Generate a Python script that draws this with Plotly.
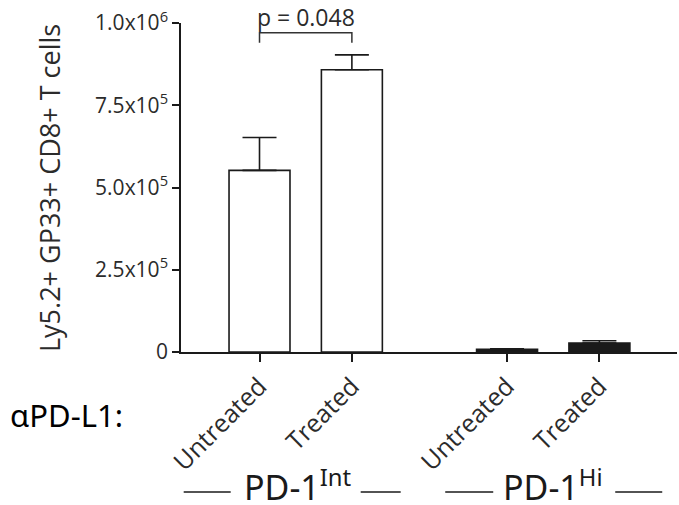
import plotly.graph_objects as go

# ---- data ----
treatments = ["Untreated", "Treated", "Untreated", "Treated"]
groups = ["PD-1<sup>Int</sup>", "PD-1<sup>Hi</sup>"]
values = [5.52e5, 8.58e5, 8.0e3, 2.7e4]
errors = [1.0e5, 0.45e5, 2.0e3, 7.0e3]
fills = ["white", "white", "#1a1a1a", "#1a1a1a"]
y_tickvals = [0, 2.5e5, 5.0e5, 7.5e5, 1.0e6]
y_ticktext = ["0", "2.5x10<sup>5</sup>", "5.0x10<sup>5</sup>", "7.5x10<sup>5</sup>", "1.0x10<sup>6</sup>"]
p_text = "p = 0.048"
y_title = "Ly5.2+ GP33+ CD8+ T cells"
row_label = "αPD-L1:"

# ---- layout geometry ----
W, H = 679, 505
ML, MR, MT, MB = 181, 2, 23, 153
group_gap = 1.68
xpos = [0, 1, group_gap + 1, group_gap + 2]
xr = [-0.85, xpos[-1] + 0.84]
pw = W - ML - MR
ph = H - MT - MB

def px_x(xd):
    return (xd - xr[0]) / (xr[1] - xr[0])

def py(pix):
    return (H - MB - pix) / ph

font_main = "Open Sans, DejaVu Sans, sans-serif"
font_lab = "Noto Sans, Open Sans, sans-serif"
txt_col = "#2b2b2b"

fig = go.Figure()
fig.add_trace(go.Bar(
    x=xpos, y=values, width=0.66,
    marker=dict(color=fills, line=dict(color="#1a1a1a", width=1.6)),
    error_y=dict(type="data", array=errors, arrayminus=[0] * len(errors), symmetric=False,
                 color="#1a1a1a", thickness=1.6, width=17),
    showlegend=False,
))

fig.update_layout(
    width=W, height=H,
    margin=dict(l=ML, r=MR, t=MT, b=MB, pad=0),
    paper_bgcolor="white", plot_bgcolor="white",
    font=dict(family=font_main, color=txt_col),
    xaxis=dict(range=xr, tickvals=xpos, ticktext=treatments, tickangle=-45,
               showline=True, linecolor="#1a1a1a", linewidth=1.5, automargin=False,
               ticks="outside", ticklen=8, tickwidth=1.5, tickcolor="#1a1a1a",
               showgrid=False, zeroline=False, tickfont=dict(size=25, color=txt_col)),
    yaxis=dict(range=[0, 1.0e6], tickvals=y_tickvals, ticktext=y_ticktext,
               showline=True, linecolor="#1a1a1a", linewidth=1.5, automargin=False,
               ticks="outside", ticklen=7, tickwidth=1.5, tickcolor="#1a1a1a",
               showgrid=False, zeroline=False, tickfont=dict(size=21, color=txt_col)),
)

# significance bracket
bt = 0.97e6
bb = 0.94e6
fig.add_shape(type="path",
              path=f"M {xpos[0]},{bb} L {xpos[0]},{bt} L {xpos[1]},{bt} L {xpos[1]},{bb}",
              xref="x", yref="y", line=dict(color="#333", width=1.5))
fig.add_annotation(x=(xpos[0] + xpos[1]) / 2, xref="x", y=py(17), yref="paper",
                   text=p_text, showarrow=False, xanchor="center", yanchor="middle",
                   font=dict(size=23, color=txt_col))

# y title
fig.add_annotation(x=px_x(xr[0]) - 132 / pw, xref="paper", y=py(188), yref="paper",
                   text=y_title, textangle=-90, showarrow=False,
                   xanchor="center", yanchor="middle",
                   font=dict(size=27, color=txt_col))

# row label
fig.add_annotation(x=(8 - ML) / pw, xref="paper", y=py(415), yref="paper",
                   text=row_label, showarrow=False, xanchor="left", yanchor="middle",
                   font=dict(size=31, color="black", family=font_lab))

# group labels with side lines
line_offsets = [(-122, -75, 55, 95), (-108, -60, 62, 109)]
text_shift = [-8, 0]
for gi, g in enumerate(groups):
    cx = (xpos[2 * gi] + xpos[2 * gi + 1]) / 2
    cpx = px_x(cx)
    fig.add_annotation(x=cpx + text_shift[gi] / pw, xref="paper", y=py(485), yref="paper",
                       text=g, showarrow=False, xanchor="center", yanchor="middle",
                       font=dict(size=34, color="#1a1a1a", family=font_lab))
    a, b, c, d = line_offsets[gi]
    for s, e in ((a, b), (c, d)):
        fig.add_shape(type="line", xref="paper", yref="paper",
                      x0=cpx + s / pw, x1=cpx + e / pw, y0=py(492), y1=py(492),
                      line=dict(color="#1a1a1a", width=1.5))

fig.write_html("out.html")
